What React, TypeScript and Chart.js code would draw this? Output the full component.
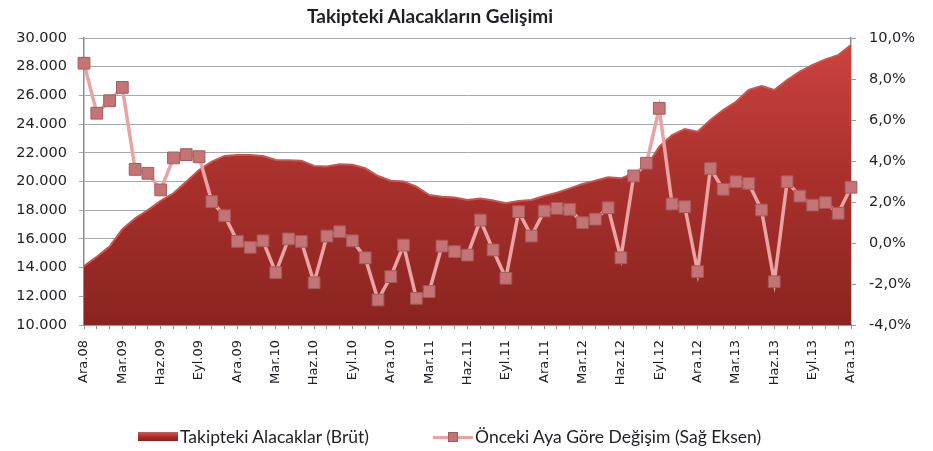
import React, { useEffect, useRef } from "react";
import { Chart, registerables } from "chart.js";

Chart.register(...registerables);

const CATEGORIES = [
  "Ara.08",
  "Oca.09", "Şub.09", "Mar.09", "Nis.09", "May.09", "Haz.09", "Tem.09", "Ağu.09", "Eyl.09", "Eki.09", "Kas.09", "Ara.09",
  "Oca.10", "Şub.10", "Mar.10", "Nis.10", "May.10", "Haz.10", "Tem.10", "Ağu.10", "Eyl.10", "Eki.10", "Kas.10", "Ara.10",
  "Oca.11", "Şub.11", "Mar.11", "Nis.11", "May.11", "Haz.11", "Tem.11", "Ağu.11", "Eyl.11", "Eki.11", "Kas.11", "Ara.11",
  "Oca.12", "Şub.12", "Mar.12", "Nis.12", "May.12", "Haz.12", "Tem.12", "Ağu.12", "Eyl.12", "Eki.12", "Kas.12", "Ara.12",
  "Oca.13", "Şub.13", "Mar.13", "Nis.13", "May.13", "Haz.13", "Tem.13", "Ağu.13", "Eyl.13", "Eki.13", "Kas.13", "Ara.13",
];

// Takipteki Alacaklar (Brüt), milyon TL
const TAKIPTEKI = [
  14100, 14760, 15460, 16670, 17430, 18010, 18660, 19180, 19990, 20800,
  21380, 21780, 21850, 21850, 21780, 21500, 21480, 21450, 21080, 21050,
  21200, 21170, 20920, 20380, 20060, 20000, 19640, 19060, 18940, 18890,
  18710, 18820, 18670, 18480, 18640, 18710, 18990, 19220, 19520, 19830,
  20060, 20290, 20220, 20570, 21030, 22430, 23240, 23660, 23470, 24280,
  24980, 25560, 26380, 26650, 26380, 27070, 27650, 28120, 28510, 28810, 29510,
];

// Önceki Aya Göre Değişim (%), sağ eksen
const DEGISIM = [
  8.77, 6.33, 6.94, 7.59, 3.59, 3.4, 2.59, 4.15, 4.31, 4.21,
  2.02, 1.33, 0.08, -0.21, 0.11, -1.45, 0.2, 0.08, -1.94, 0.34,
  0.55, 0.11, -0.72, -2.78, -1.64, -0.1, -2.7, -2.37, -0.15, -0.42,
  -0.59, 1.12, -0.34, -1.72, 1.53, 0.34, 1.56, 1.69, 1.64, 0.99,
  1.16, 1.72, -0.72, 3.27, 3.89, 6.57, 1.9, 1.77, -1.4, 3.64,
  2.62, 2.99, 2.91, 1.61, -1.89, 2.99, 2.29, 1.85, 1.97, 1.45, 2.72,
];

const LEFT_MIN = 10000;
const LEFT_MAX = 30000;
const LEFT_STEP = 2000;
const RIGHT_MIN = -4;
const RIGHT_MAX = 10;
const RIGHT_STEP = 2;

const TITLE = "Takipteki Alacakların Gelişimi";
const SERIES_AREA = "Takipteki Alacaklar (Brüt)";
const SERIES_LINE = "Önceki Aya Göre Değişim (Sağ Eksen)";

const FONT = "Lato, 'Open Sans', 'DejaVu Sans', sans-serif";
const TICK_FONT = "'DejaVu Sans', Verdana, sans-serif";
const TEXT = "#1e1e24";

export default function App() {
  const ref = useRef<HTMLCanvasElement | null>(null);

  useEffect(() => {
    document.body.style.margin = "0";
    document.body.style.overflow = "hidden";
    const canvas = ref.current;
    if (!canvas) return;

    const areaFill = (ctx: any) => {
      const chart = ctx.chart;
      const area = chart.chartArea;
      if (!area) return "#b03230";
      const g = chart.ctx.createLinearGradient(0, area.top, 0, area.bottom);
      g.addColorStop(0, "#cc4440");
      g.addColorStop(0.5, "#a8302c");
      g.addColorStop(1, "#8a2420");
      return g;
    };

    const chart = new Chart(canvas, {
      type: "line",
      data: {
        labels: CATEGORIES,
        datasets: [
          {
            label: SERIES_LINE,
            data: DEGISIM,
            yAxisID: "y1",
            order: 1,
            borderColor: "#e8a4a4",
            borderWidth: 3.5,
            pointStyle: "rect",
            pointRadius: 8.3,
            pointBackgroundColor: "#c47474",
            pointBorderColor: "#a55a5a",
            pointBorderWidth: 1,
            tension: 0,
            fill: false,
          },
          {
            label: SERIES_AREA,
            data: TAKIPTEKI,
            yAxisID: "y",
            order: 2,
            borderColor: "#d4504a",
            borderWidth: 2,
            backgroundColor: areaFill,
            fill: "start",
            pointRadius: 0,
            tension: 0,
          },
        ],
      },
      options: {
        responsive: false,
        animation: false,
        layout: { padding: { top: 38, left: 0, right: 0, bottom: 0 } },
        plugins: {
          legend: { display: false },
          title: { display: false },
          tooltip: { enabled: false },
        },
        scales: {
          x: {
            type: "category",
            offset: false,
            afterFit: (s: any) => {
              s.height = 451 - 38 - 287;
            },
            grid: {
              drawOnChartArea: false,
              drawTicks: true,
              tickLength: 4,
              color: "#9a9a9a",
            },
            border: { color: "#8c8c8c", width: 1.5 },
            ticks: {
              autoSkip: false,
              maxRotation: 90,
              minRotation: 90,
              padding: 11,
              color: TEXT,
              font: { family: TICK_FONT, size: 13 },
              callback: (_v: any, i: number) => (i % 3 === 0 ? CATEGORIES[i] : ""),
            },
          },
          y: {
            position: "left",
            min: LEFT_MIN,
            max: LEFT_MAX,
            afterFit: (s: any) => {
              s.width = 84;
            },
            grid: { color: "#a8a8a8", lineWidth: 1, tickLength: 5 },
            border: { color: "#8c8c8c", width: 1.5 },
            ticks: {
              stepSize: LEFT_STEP,
              padding: 12,
              color: TEXT,
              font: { family: TICK_FONT, size: 14.5 },
              callback: (v: any) => Number(v).toLocaleString("de-DE"),
            },
          },
          y1: {
            position: "right",
            min: RIGHT_MIN,
            max: RIGHT_MAX,
            afterFit: (s: any) => {
              s.width = 933 - 851;
            },
            grid: { drawOnChartArea: false, tickLength: 5, color: "#9a9a9a" },
            border: { color: "#8c8c8c", width: 1.5 },
            ticks: {
              stepSize: RIGHT_STEP,
              padding: 13,
              color: TEXT,
              font: { family: TICK_FONT, size: 14.5 },
              callback: (v: any) => Number(v).toFixed(1).replace(".", ",") + "%",
            },
          },
        },
      },
    });
    return () => chart.destroy();
  }, []);

  return (
    <div style={{ position: "relative", width: 933, height: 451, background: "#fff" }}>
      <canvas ref={ref} width={933} height={451} style={{ display: "block" }} />
      <div
        style={{
          position: "absolute",
          top: 4,
          left: 0,
          width: 860,
          textAlign: "center",
          fontFamily: FONT,
          fontWeight: 700,
          fontSize: 19,
          color: TEXT,
        }}
      >
        {TITLE}
      </div>
      <div
        style={{
          position: "absolute",
          top: 426,
          left: 138,
          display: "flex",
          alignItems: "center",
          fontFamily: FONT,
          fontSize: 17.5,
          color: TEXT,
          whiteSpace: "nowrap",
        }}
      >
        <span
          style={{
            display: "inline-block",
            width: 40,
            height: 9,
            background: "linear-gradient(#d65a55, #a02a28 60%, #8a2220)",
            marginRight: 2,
          }}
        />
        <span>{SERIES_AREA}</span>
        <span style={{ display: "inline-block", width: 64 }} />
        <span style={{ position: "relative", display: "inline-block", width: 40, height: 12, marginRight: 2 }}>
          <span
            style={{
              position: "absolute",
              left: 0,
              right: 0,
              top: 5,
              height: 3,
              background: "#e8a4a4",
            }}
          />
          <span
            style={{
              position: "absolute",
              left: 15,
              top: 1,
              width: 10,
              height: 10,
              background: "#c47474",
              border: "1px solid #a55a5a",
              boxSizing: "border-box",
            }}
          />
        </span>
        <span>{SERIES_LINE}</span>
      </div>
    </div>
  );
}
